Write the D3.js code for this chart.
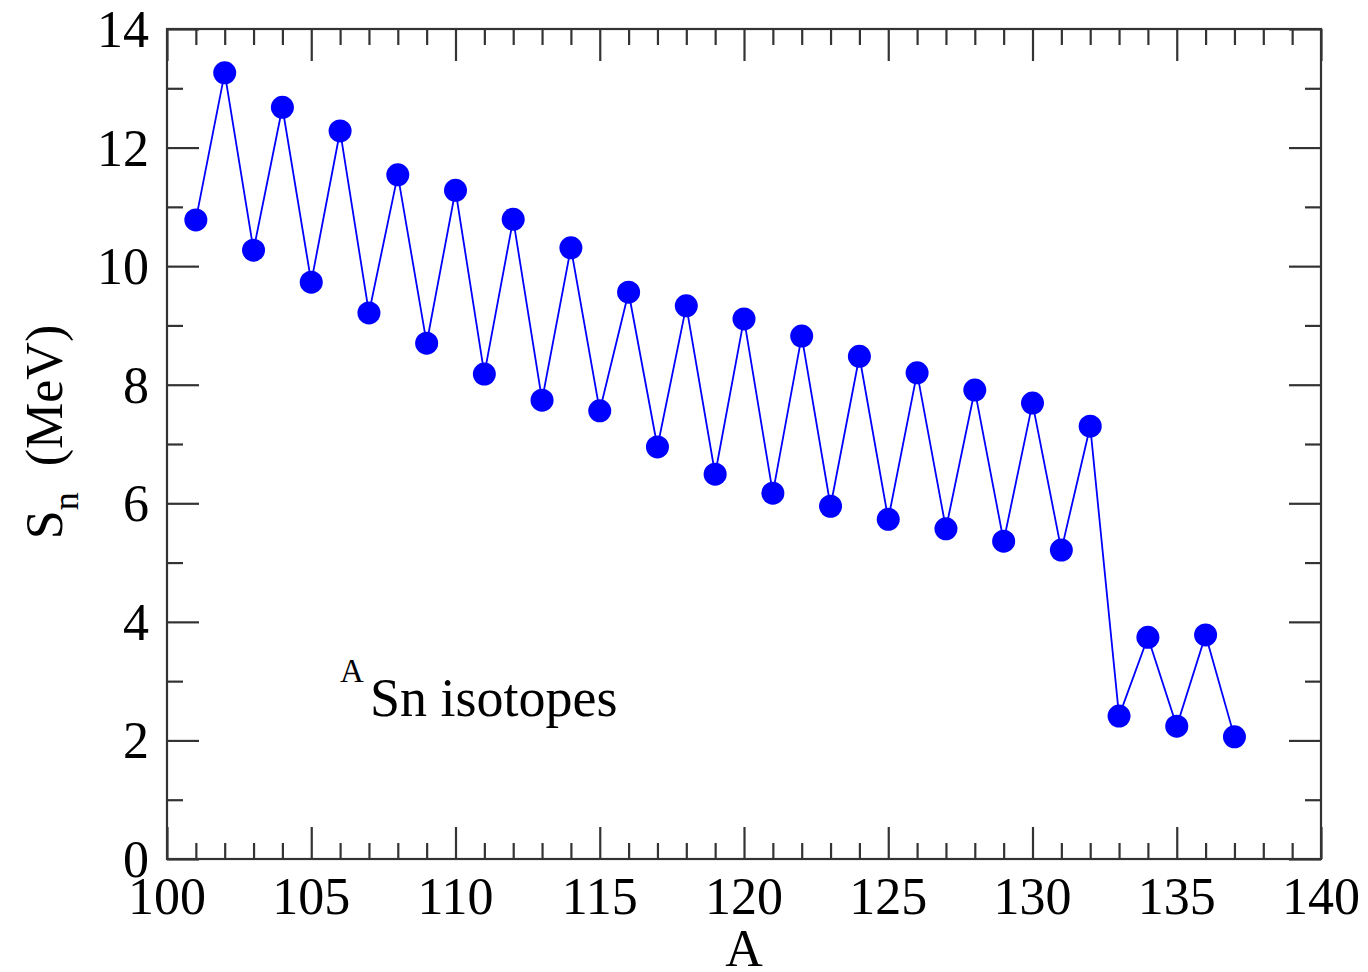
<!DOCTYPE html>
<html>
<head>
<meta charset="utf-8">
<script src="https://cdn.jsdelivr.net/npm/d3@7"></script>
<style>
  body { margin: 0; background: #fff; }
  text { font-family: "Liberation Serif", "Times New Roman", serif; fill: #000; }
</style>
</head>
<body>
<script>
// mass numbers and neutron separation energies (MeV)
var massNumbers = [101, 102, 103, 104, 105, 106, 107, 108, 109, 110,
                   111, 112, 113, 114, 115, 116, 117, 118, 119, 120,
                   121, 122, 123, 124, 125, 126, 127, 128, 129, 130,
                   131, 132, 133, 134, 135, 136, 137];
var snValues = [10.78, 13.26, 10.27, 12.68, 9.73, 12.28, 9.21, 11.54, 8.70, 11.28,
                8.18, 10.79, 7.74, 10.31, 7.56, 9.56, 6.95, 9.33, 6.49, 9.11,
                6.17, 8.82, 5.95, 8.48, 5.73, 8.20, 5.57, 7.91, 5.36, 7.69,
                5.21, 7.30, 2.41, 3.74, 2.24, 3.78, 2.06];
var xTicks = [100, 105, 110, 115, 120, 125, 130, 135, 140];
var yTicks = [0, 2, 4, 6, 8, 10, 12, 14];

var W = 1368, H = 972;
var m = {left: 167, right: 47, top: 29, bottom: 113};

var svg = d3.select("body")
    .append("svg")
    .attr("width", W)
    .attr("height", H);

var x = d3.scaleLinear().domain([100, 140]).range([m.left, W - m.right]);
var y = d3.scaleLinear().domain([0, 14]).range([H - m.bottom, m.top]);

var minorX = d3.range(100, 141, 1).filter(function(d) { return d % 5 !== 0; });
var minorY = d3.range(0, 15, 1).filter(function(d) { return d % 2 !== 0; });

function styleAxis(g) {
    g.select(".domain").remove();
    g.selectAll(".tick line").attr("stroke", "#333").attr("stroke-width", 2.2);
}

// ticks on all four sides, pointing inwards
svg.append("g").attr("transform", "translate(0," + y(0) + ")")
    .call(d3.axisTop(x).tickValues(xTicks).tickSize(32).tickFormat(""))
    .call(styleAxis);
svg.append("g").attr("transform", "translate(0," + y(0) + ")")
    .call(d3.axisTop(x).tickValues(minorX).tickSize(16).tickFormat(""))
    .call(styleAxis);
svg.append("g").attr("transform", "translate(0," + y(14) + ")")
    .call(d3.axisBottom(x).tickValues(xTicks).tickSize(32).tickFormat(""))
    .call(styleAxis);
svg.append("g").attr("transform", "translate(0," + y(14) + ")")
    .call(d3.axisBottom(x).tickValues(minorX).tickSize(16).tickFormat(""))
    .call(styleAxis);
svg.append("g").attr("transform", "translate(" + x(100) + ",0)")
    .call(d3.axisRight(y).tickValues(yTicks).tickSize(32).tickFormat(""))
    .call(styleAxis);
svg.append("g").attr("transform", "translate(" + x(100) + ",0)")
    .call(d3.axisRight(y).tickValues(minorY).tickSize(16).tickFormat(""))
    .call(styleAxis);
svg.append("g").attr("transform", "translate(" + x(140) + ",0)")
    .call(d3.axisLeft(y).tickValues(yTicks).tickSize(32).tickFormat(""))
    .call(styleAxis);
svg.append("g").attr("transform", "translate(" + x(140) + ",0)")
    .call(d3.axisLeft(y).tickValues(minorY).tickSize(16).tickFormat(""))
    .call(styleAxis);

// frame
svg.append("rect")
    .attr("x", x(100)).attr("y", y(14))
    .attr("width", x(140) - x(100)).attr("height", y(0) - y(14))
    .attr("fill", "none").attr("stroke", "#333").attr("stroke-width", 2.2);

// tick labels
svg.selectAll("text.xlab")
    .data(xTicks)
    .enter().append("text")
    .attr("class", "xlab")
    .attr("x", function(d) { return x(d); })
    .attr("y", y(0) + 55)
    .attr("text-anchor", "middle")
    .style("font-size", "52px")
    .text(function(d) { return d; });

svg.selectAll("text.ylab")
    .data(yTicks)
    .enter().append("text")
    .attr("class", "ylab")
    .attr("x", x(100) - 18)
    .attr("y", function(d) { return y(d) + 18; })
    .attr("text-anchor", "end")
    .style("font-size", "52px")
    .text(function(d) { return d; });

// axis titles
svg.append("text")
    .attr("x", x(120))
    .attr("y", H - 6)
    .attr("text-anchor", "middle")
    .style("font-size", "52px")
    .text("A");

var yt = svg.append("text")
    .attr("transform", "translate(62," + 432 + ") rotate(-90)")
    .attr("text-anchor", "middle")
    .style("font-size", "52px");
yt.append("tspan").text("S");
yt.append("tspan").attr("dy", 16).style("font-size", "36px").text("n");
yt.append("tspan").attr("dy", -16).text("\u00a0\u00a0(MeV)");

// annotation
var ann = svg.append("text")
    .attr("x", 340)
    .attr("y", 716)
    .style("font-size", "54px");
ann.append("tspan").attr("dy", -34).style("font-size", "33px").text("A");
ann.append("tspan").attr("x", 370).attr("dy", 34).text("Sn isotopes");

// data line and markers
var pts = massNumbers.map(function(a, i) { return [a, snValues[i]]; });

svg.append("path")
    .datum(pts)
    .attr("fill", "none")
    .attr("stroke", "#0000ff")
    .attr("stroke-width", 1.8)
    .attr("d", d3.line()
        .x(function(d) { return x(d[0]); })
        .y(function(d) { return y(d[1]); }));

svg.selectAll("circle.pt")
    .data(pts)
    .enter().append("circle")
    .attr("class", "pt")
    .attr("cx", function(d) { return x(d[0]); })
    .attr("cy", function(d) { return y(d[1]); })
    .attr("r", 11.5)
    .attr("fill", "#0000ff");
</script>
</body>
</html>
